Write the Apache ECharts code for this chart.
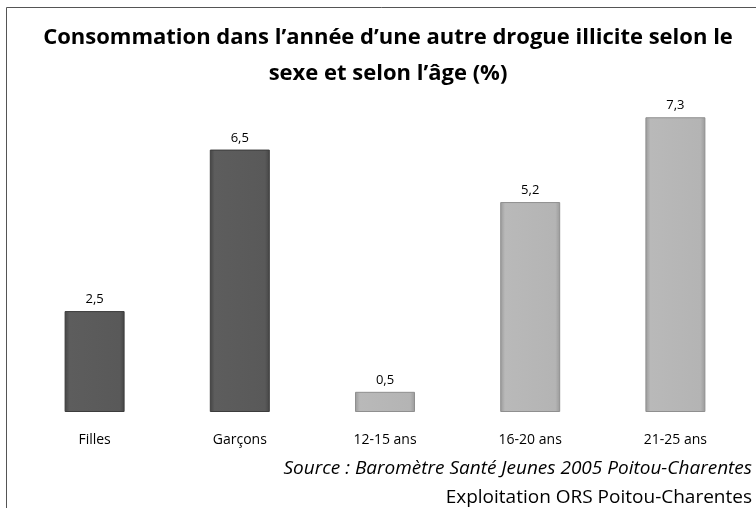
<!DOCTYPE html>
<html>
<head>
<meta charset="utf-8">
<script src="https://cdn.jsdelivr.net/npm/echarts@6/dist/echarts.min.js"></script>
<style>
  html, body { margin: 0; padding: 0; background: #fff; }
  #main { width: 756px; height: 508px; }
</style>
</head>
<body>
<div id="main"></div>
<script>
var categories = ['Filles', 'Garçons', '12-15 ans', '16-20 ans', '21-25 ans'];
var values = [2.5, 6.5, 0.5, 5.2, 7.3];
var groups = ['sexe', 'sexe', 'age', 'age', 'age'];

var FONT = '"Open Sans", Lato, sans-serif';

function barFill(group) {
  var c = group === 'sexe'
    ? ['#444444', '#5d5d5d', '#595959', '#454545']
    : ['#999999', '#b9b9b9', '#b4b4b4', '#9a9a9a'];
  return new echarts.graphic.LinearGradient(0, 0, 1, 0, [
    { offset: 0, color: c[0] },
    { offset: 0.08, color: c[1] },
    { offset: 0.92, color: c[2] },
    { offset: 1, color: c[3] }
  ]);
}

var chart = echarts.init(document.getElementById('main'));
chart.setOption({
  backgroundColor: '#fff',
  animation: false,
  title: {
    text: 'Consommation dans l\u2019année d\u2019une autre drogue illicite selon le\nsexe et selon l\u2019âge (%)',
    left: 383,
    top: 15,
    textAlign: 'center',
    textStyle: { fontFamily: FONT, fontSize: 22, fontWeight: 'bold', color: '#000', lineHeight: 36 }
  },
  grid: { left: 22, right: 8, top: 89, bottom: 96 },
  xAxis: {
    type: 'category',
    data: categories,
    axisLine: { show: false },
    axisTick: { show: false },
    axisLabel: { fontFamily: FONT, fontSize: 14, color: '#000', margin: 21 }
  },
  yAxis: {
    type: 'value',
    min: 0,
    max: 8,
    show: false,
    splitLine: { show: false }
  },
  series: [{
    type: 'bar',
    barWidth: 60,
    data: values.map(function (v, i) {
      return {
        value: v,
        itemStyle: {
          color: barFill(groups[i]),
          borderColor: groups[i] === 'sexe' ? '#3c3c3c' : '#8f8f8f',
          borderWidth: 1
        }
      };
    }),
    label: {
      show: true,
      position: 'top',
      distance: 5,
      fontFamily: FONT,
      fontSize: 13,
      color: '#000',
      formatter: function (p) { return String(p.value).replace('.', ','); }
    }
  }],
  graphic: [
    {
      type: 'rect',
      shape: { x: 6.5, y: 7.5, width: 800, height: 600 },
      style: { fill: 'none', stroke: '#555', lineWidth: 1 },
      silent: true
    },
    {
      type: 'text',
      right: 4,
      top: 459,
      style: {
        text: 'Source : Baromètre Santé Jeunes 2005 Poitou-Charentes',
        font: 'italic 19px ' + FONT,
        fill: '#000',
        textAlign: 'right'
      }
    },
    {
      type: 'text',
      right: 4,
      top: 488,
      style: {
        text: 'Exploitation ORS Poitou-Charentes',
        font: '19px ' + FONT,
        fill: '#000',
        textAlign: 'right'
      }
    }
  ]
});
</script>
</body>
</html>
